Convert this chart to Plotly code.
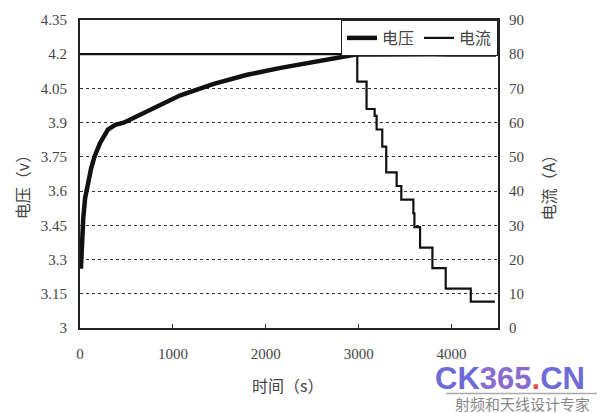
import plotly.graph_objects as go

# ---- data ----
volt_t = [10, 20, 35, 55, 85, 120, 155, 215, 300, 380, 470, 720, 1080, 1440, 1800,
          2160, 2520, 2880, 2985, 3150, 3400, 3600, 3800, 4000, 4200, 4400, 4480]
volt_v = [3.26, 3.38, 3.48, 3.57, 3.64, 3.70, 3.75, 3.81, 3.87, 3.89, 3.90, 3.95, 4.02, 4.07, 4.11,
          4.14, 4.167, 4.193, 4.20, 4.199, 4.201, 4.198, 4.200, 4.199, 4.198, 4.199, 4.199]

curr_t = [0, 2985, 3085, 3172, 3193, 3254, 3297, 3409, 3459, 3589, 3600, 3661, 3794, 3937, 4207, 4466]
curr_a = [80, 72, 64, 62, 58, 53, 45.5, 41.5, 37.5, 33.5, 29.5, 23.5, 17.5, 11.5, 7.7, 7.7]

x_ticks = [0, 1000, 2000, 3000, 4000]
v_ticks = [3, 3.15, 3.3, 3.45, 3.6, 3.75, 3.9, 4.05, 4.2, 4.35]
v_labels = ["3", "3.15", "3.3", "3.45", "3.6", "3.75", "3.9", "4.05", "4.2", "4.35"]
a_ticks = [0, 10, 20, 30, 40, 50, 60, 70, 80, 90]

tick_font = dict(family="Liberation Serif", size=15, color="#444")
cjk = "Noto Sans CJK SC"

fig = go.Figure()
fig.add_trace(go.Scatter(x=volt_t, y=volt_v, mode="lines", name="电压",
                         line=dict(color="#111", width=4.5), yaxis="y"))
fig.add_trace(go.Scatter(x=curr_t, y=curr_a, mode="lines", name="电流",
                         line=dict(color="#111", width=2.2, shape="hv"), yaxis="y2"))

fig.update_layout(
    width=600, height=413,
    margin=dict(l=80, r=102, t=18, b=85),
    paper_bgcolor="white", plot_bgcolor="white",
    showlegend=True,
    legend=dict(orientation="h", x=1, y=1, xanchor="right", yanchor="top",
                bgcolor="white", bordercolor="#222", borderwidth=1,
                font=dict(family=cjk, size=16, color="#444"),
                itemwidth=30, tracegroupgap=0),
    xaxis=dict(range=[0, 4500], tickvals=x_ticks, ticks="inside", ticklen=4,
               tickcolor="#333", showgrid=False, zeroline=False,
               showline=True, linecolor="#222", linewidth=2, mirror=True,
               tickfont=tick_font, ticklabelstandoff=11),
    yaxis=dict(range=[3, 4.35], tickvals=v_ticks, ticktext=v_labels, ticks="",
               showgrid=True, gridcolor="#333", griddash="dot", gridwidth=1,
               zeroline=False, showline=True, linecolor="#222", linewidth=2, mirror=True,
               tickfont=tick_font, ticklabelstandoff=8),
    yaxis2=dict(range=[0, 90], tickvals=a_ticks, overlaying="y", side="right",
                showgrid=False, zeroline=False, ticks="",
                tickfont=tick_font, ticklabelstandoff=10),
)

ann = [
    dict(text="电压（v）", x=-0.139, y=0.47, textangle=-90),
    dict(text="电流（A）", x=1.12, y=0.47, textangle=-90),
    dict(text="时间（s）", x=0.497, y=-0.184, textangle=0),
]
for a in ann:
    fig.add_annotation(xref="paper", yref="paper", showarrow=False,
                       xanchor="center", yanchor="middle",
                       font=dict(family=cjk, size=16, color="#444"), **a)

# watermark
fig.add_annotation(xref="paper", yref="paper", showarrow=False,
                   x=(510 - 80) / 418, y=(328 - 379) / 310, xanchor="center", yanchor="middle",
                   text="<b><span style='color:#6e6ad8'>CK</span><span style='color:#8a6ccf'>365</span>"
                        "<span style='color:#e05050'>.</span><span style='color:#6e6ad8'>CN</span></b>",
                   font=dict(family="Liberation Sans", size=31))
fig.add_annotation(xref="paper", yref="paper", showarrow=False,
                   x=(522 - 80) / 418, y=(328 - 404) / 310, xanchor="center", yanchor="middle",
                   text="射频和天线设计专家", font=dict(family=cjk, size=15, color="#888"))
fig.add_shape(type="line", xref="paper", yref="paper",
              x0=(446 - 80) / 418, x1=(597 - 80) / 418,
              y0=(328 - 394) / 310, y1=(328 - 394) / 310,
              line=dict(color="#aaa", width=1.5))

fig.write_html("out.html", post_script="document.body.style.margin='0';",
               config={"displayModeBar": False})
